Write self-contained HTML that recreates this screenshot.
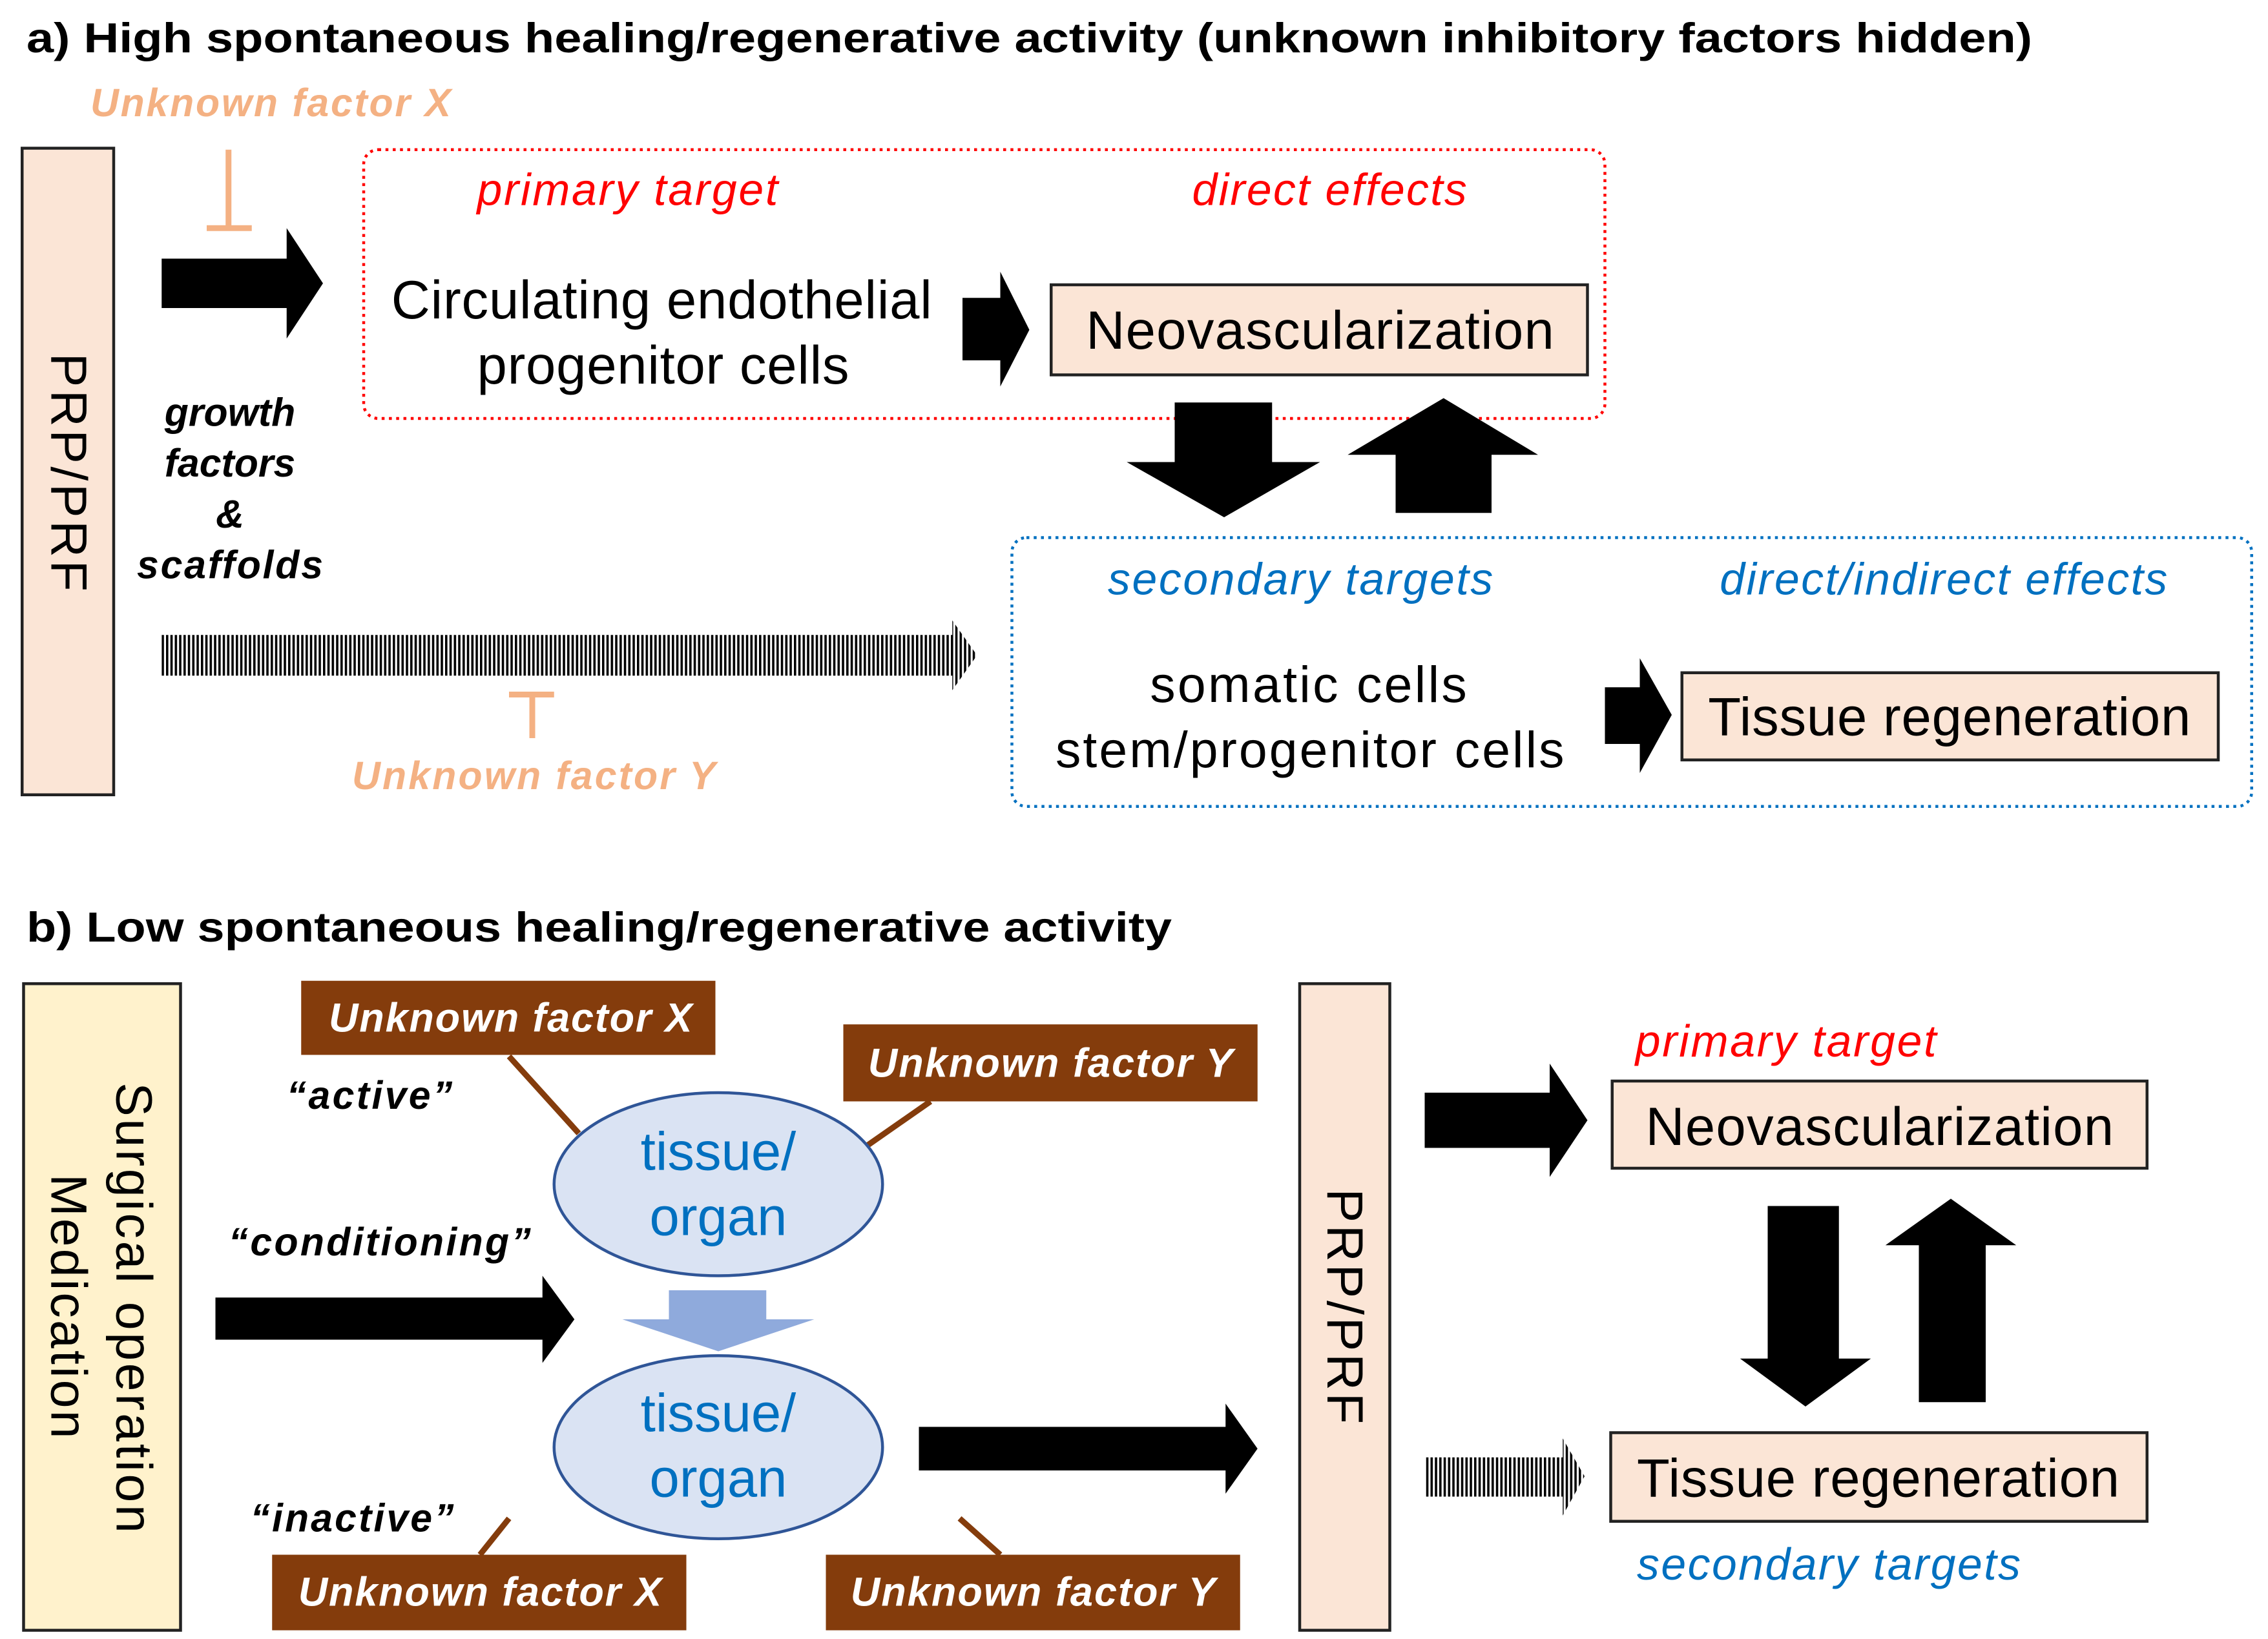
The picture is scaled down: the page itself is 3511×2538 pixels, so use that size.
<!DOCTYPE html>
<html><head><meta charset="utf-8"><style>html,body{margin:0;padding:0;background:#fff}svg{display:block}</style></head><body>
<svg width="3511" height="2538" viewBox="0 0 1560 1128" xmlns="http://www.w3.org/2000/svg" font-family="Liberation Sans, Arial, sans-serif">
<defs>
<pattern id="st" width="3" height="10" patternUnits="userSpaceOnUse"><rect width="1.6" height="10" fill="#000"/></pattern>
</defs>
<rect width="1560" height="1128" fill="#fff"/>
<!-- a -->
<text x="18" y="36" font-size="29" font-weight="bold" textLength="1380" lengthAdjust="spacingAndGlyphs">a) High spontaneous healing/regenerative activity (unknown inhibitory factors hidden)</text>
<text x="62" y="80" font-size="27" font-weight="bold" font-style="italic" fill="#F4B183" textLength="248">Unknown factor X</text>
<path d="M157 103V157M142 157H173" stroke="#F4B183" stroke-width="4" fill="none"/>
<rect x="15" y="102" width="63" height="445" fill="#FBE5D6" stroke="#222" stroke-width="2"/>
<text transform="translate(35,325) rotate(90)" font-size="35" text-anchor="middle" textLength="164">PRP/PRF</text>
<polygon points="111,178 197,178 197,157 222,195 197,233 197,212 111,212" fill="#000"/>
<g font-size="27" font-weight="bold" font-style="italic" text-anchor="middle">
<text x="158" y="293">growth</text><text x="158" y="328">factors</text><text x="158" y="363">&amp;</text><text x="158" y="398" textLength="128">scaffolds</text></g>
<rect x="250" y="103" width="854" height="185" rx="10" fill="none" stroke="#FF0000" stroke-width="2" stroke-dasharray="2,3"/>
<text x="328" y="141" font-size="31" font-style="italic" fill="#FF0000" textLength="207">primary target</text>
<text x="820" y="141" font-size="31" font-style="italic" fill="#FF0000" textLength="189">direct effects</text>
<text x="269" y="219" font-size="37" textLength="372">Circulating endothelial</text>
<text x="328" y="264" font-size="37" textLength="256">progenitor cells</text>
<polygon points="662,205 688,205 688,187 708,227 688,266 688,248 662,248" fill="#000"/>
<rect x="723" y="196" width="369" height="62" fill="#FBE5D6" stroke="#222" stroke-width="2"/>
<text x="747" y="240" font-size="37" textLength="322">Neovascularization</text>
<polygon points="808,277 875,277 875,318 908,318 842,356 775,318 808,318" fill="#000"/>
<polygon points="960,353 1026,353 1026,313 1058,313 993,274 927,313 960,313" fill="#000"/>
<rect x="696" y="370" width="853" height="185" rx="10" fill="none" stroke="#0070C0" stroke-width="2" stroke-dasharray="2,3"/>
<text x="762" y="409" font-size="31" font-style="italic" fill="#0070C0" textLength="265">secondary targets</text>
<text x="1183" y="409" font-size="31" font-style="italic" fill="#0070C0" textLength="308">direct/indirect effects</text>
<text x="791" y="483" font-size="35" textLength="218">somatic cells</text>
<text x="726" y="528" font-size="35" textLength="350">stem/progenitor cells</text>
<polygon points="1104,473 1128,473 1128,453 1150,492 1128,532 1128,512 1104,512" fill="#000"/>
<rect x="1157" y="463" width="369" height="60" fill="#FBE5D6" stroke="#222" stroke-width="2"/>
<text x="1175" y="506" font-size="37" textLength="332">Tissue regeneration</text>
<polygon points="111,437 655,437 655,427 672,451 655,475 655,465 111,465" fill="url(#st)"/>
<path d="M350 478H381M366 478V508" stroke="#F4B183" stroke-width="4" fill="none"/>
<text x="242" y="543" font-size="27" font-weight="bold" font-style="italic" fill="#F4B183" textLength="250">Unknown factor Y</text>
<!-- b -->
<text x="18" y="648" font-size="29" font-weight="bold" textLength="788" lengthAdjust="spacingAndGlyphs">b) Low spontaneous healing/regenerative activity</text>
<rect x="16" y="677" width="108" height="445" fill="#FFF2CC" stroke="#222" stroke-width="2"/>
<text transform="translate(80,745) rotate(90)" font-size="35" textLength="310">Surgical operation</text>
<text transform="translate(35,808) rotate(90)" font-size="35" textLength="182">Medication</text>
<g stroke="#843C0C" stroke-width="4"><path d="M350 727L398 780M640 758L597 788M350 1045L330 1070M660 1045L688 1070"/></g>
<g fill="#843C0C"><rect x="207" y="675" width="285" height="51"/><rect x="580" y="705" width="285" height="53"/><rect x="187" y="1070" width="285" height="52"/><rect x="568" y="1070" width="285" height="52"/></g>
<g font-size="28" font-weight="bold" font-style="italic" fill="#fff">
<text x="226" y="710" textLength="250">Unknown factor X</text><text x="597" y="741" textLength="251">Unknown factor Y</text><text x="205" y="1105" textLength="250">Unknown factor X</text><text x="585" y="1105" textLength="251">Unknown factor Y</text></g>
<g font-size="27" font-weight="bold" font-style="italic">
<text x="197" y="763" textLength="114">“active”</text><text x="157" y="864" textLength="208">“conditioning”</text><text x="172" y="1054" textLength="140">“inactive”</text></g>
<ellipse cx="494" cy="815" rx="113" ry="63" fill="#DAE3F3" stroke="#2F5597" stroke-width="2"/>
<ellipse cx="494" cy="996" rx="113" ry="63" fill="#DAE3F3" stroke="#2F5597" stroke-width="2"/>
<g font-size="37" fill="#0070C0" text-anchor="middle"><text x="494" y="805">tissue/</text><text x="494" y="850">organ</text><text x="494" y="985">tissue/</text><text x="494" y="1030">organ</text></g>
<polygon points="460,888 527,888 527,908 560,908 494,930 428,908 460,908" fill="#8FAADC"/>
<polygon points="148,893 373,893 373,878 395,908 373,938 373,922 148,922" fill="#000"/>
<polygon points="632,982 843,982 843,966 865,997 843,1028 843,1012 632,1012" fill="#000"/>
<rect x="894" y="677" width="62" height="445" fill="#FBE5D6" stroke="#222" stroke-width="2"/>
<text transform="translate(913,818) rotate(90)" font-size="35" textLength="162">PRP/PRF</text>
<polygon points="980,752 1066,752 1066,732 1092,771 1066,810 1066,790 980,790" fill="#000"/>
<text x="1125" y="727" font-size="31" font-style="italic" fill="#FF0000" textLength="207">primary target</text>
<rect x="1109" y="744" width="368" height="60" fill="#FBE5D6" stroke="#222" stroke-width="2"/>
<text x="1132" y="788" font-size="37" textLength="322">Neovascularization</text>
<polygon points="1216,830 1265,830 1265,935 1287,935 1242,968 1197,935 1216,935" fill="#000"/>
<polygon points="1320,965 1366,965 1366,857 1387,857 1342,825 1297,857 1320,857" fill="#000"/>
<polygon points="980,1003 1075,1003 1075,990 1090,1016 1075,1043 1075,1030 980,1030" fill="url(#st)"/>
<rect x="1108" y="986" width="369" height="61" fill="#FBE5D6" stroke="#222" stroke-width="2"/>
<text x="1126" y="1030" font-size="37" textLength="332">Tissue regeneration</text>
<text x="1126" y="1087" font-size="31" font-style="italic" fill="#0070C0" textLength="264">secondary targets</text>
</svg>
</body></html>
